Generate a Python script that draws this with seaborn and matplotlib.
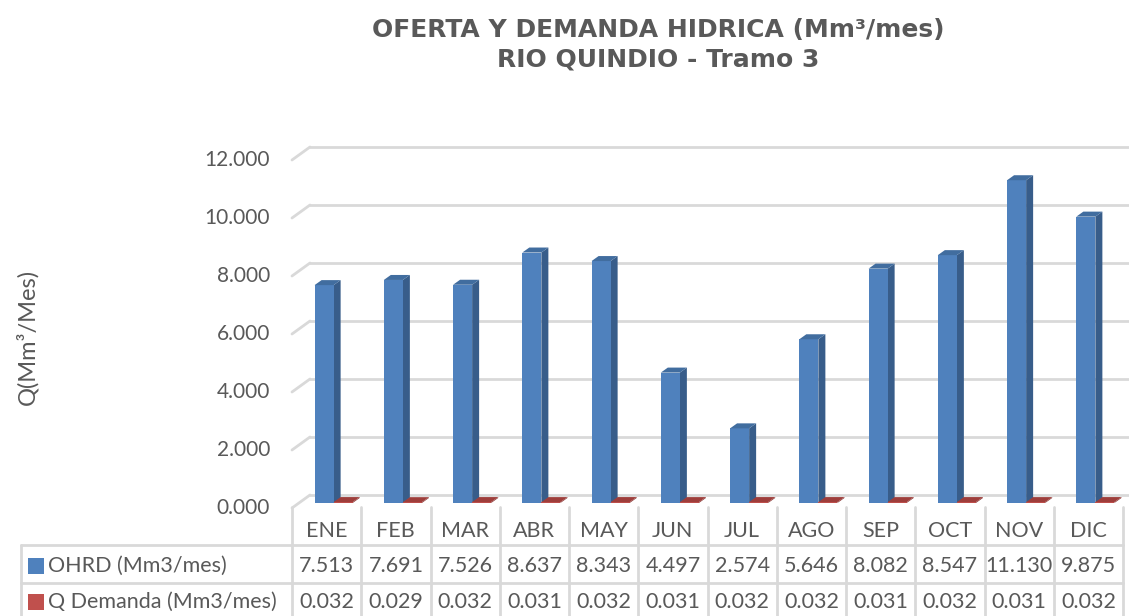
import matplotlib
matplotlib.use("Agg")
import matplotlib.pyplot as plt
from matplotlib.patches import Polygon
import seaborn as sns
import pandas as pd

meses = ["ENE", "FEB", "MAR", "ABR", "MAY", "JUN", "JUL", "AGO", "SEP", "OCT", "NOV", "DIC"]
ohrd = [7.513, 7.691, 7.526, 8.637, 8.343, 4.497, 2.574, 5.646, 8.082, 8.547, 11.130, 9.875]
demanda = [0.032, 0.029, 0.032, 0.031, 0.032, 0.031, 0.032, 0.032, 0.031, 0.032, 0.031, 0.032]
series = ["OHRD (Mm3/mes)", "Q Demanda (Mm3/mes)"]
y_ticks = [0, 2, 4, 6, 8, 10, 12]
y_tick_labels = ["0.000", "2.000", "4.000", "6.000", "8.000", "10.000", "12.000"]

front_colors = {series[0]: "#4F81BD", series[1]: "#C0504D"}
side_colors = {series[0]: "#385D8A", series[1]: "#8C3836"}
top_colors = {series[0]: "#416D9F", series[1]: "#9E3E3B"}

df = pd.DataFrame({
    "mes": meses * 2,
    "valor": ohrd + demanda,
    "serie": [series[0]] * 12 + [series[1]] * 12,
})

W, H = 1129, 616
GRAY = "#595959"
GRID = "#D9D9D9"
BODY = "Lato"

sns.set_style("white")
plt.rcParams["font.family"] = [BODY, "DejaVu Sans"]

fig = plt.figure(figsize=(W / 100, H / 100), dpi=100)

# bar-front plane of the 3D chart
ax_left, ax_w = 299, 831
ax_bot, ax_top = 503, 140.5
ax = fig.add_axes([ax_left / W, 1 - ax_bot / H, ax_w / W, (ax_bot - ax_top) / H])
sns.barplot(data=df, x="mes", y="valor", hue="serie", palette=front_colors,
            width=0.55, saturation=1, legend=False, ax=ax, zorder=3,
            linewidth=0, edgecolor="none")
ax.set_xlim(-0.5, 11.5)
ax.set_ylim(0, 12.5)
ax.axis("off")

px_x = ax_w / 12.0          # pixels per category
px_y = (ax_bot - ax_top) / 12.5  # pixels per unit

# depth of the bars
bdx, bdy = 7 / px_x, 5 / px_y
# back wall / front floor offsets relative to bar plane
back_dx, back_dy = 11 / px_x, 8 / px_y
front_dx, front_dy = -7 / px_x, -5 / px_y

# gridlines on back wall with slanted floor-side segments
for v, lab in zip(y_ticks, y_tick_labels):
    ax.plot([-0.5 + back_dx, 12.5], [v + back_dy, v + back_dy], color=GRID,
            lw=2, clip_on=False, zorder=1)
    ax.plot([-0.5 + front_dx, -0.5 + back_dx], [v + front_dy, v + back_dy],
            color=GRID, lw=2, clip_on=False, zorder=1)
    ax.text(-0.5 - 29 / px_x, v + front_dy, lab, ha="right", va="center",
            fontsize=15, color=GRAY)

# 3D side and top faces derived from the seaborn bars
blue_sum = sum(matplotlib.colors.to_rgb(front_colors[series[0]]))
for p in list(ax.patches):
    x0, w, h = p.get_x(), p.get_width(), p.get_height()
    if w <= 0:
        continue
    key = series[0] if abs(sum(p.get_facecolor()[:3]) - blue_sum) < 0.05 else series[1]
    side = Polygon([(x0 + w, 0), (x0 + w + bdx, bdy), (x0 + w + bdx, h + bdy), (x0 + w, h)],
                   closed=True, facecolor=side_colors[key], edgecolor="none", zorder=2)
    top = Polygon([(x0, h), (x0 + bdx, h + bdy), (x0 + w + bdx, h + bdy), (x0 + w, h)],
                  closed=True, facecolor=top_colors[key], edgecolor="none", zorder=4,
                  clip_on=False)
    side.set_clip_on(False)
    ax.add_patch(side)
    ax.add_patch(top)

# data table below the chart
tab_top, row_h = 507, 38
tab_left = 292
ax_t = fig.add_axes([tab_left / W, 1 - (tab_top + 3 * row_h) / H, ax_w / W, 3 * row_h / H])
ax_t.set_xlim(-0.5, 11.5)
ax_t.set_ylim(3, 0)
ax_t.axis("off")
lab_left = -0.5 - (tab_left - 21) / px_x

for k in range(13):
    ax_t.plot([k - 0.5, k - 0.5], [0, 3], color=GRID, lw=2, clip_on=False)
ax_t.plot([lab_left, lab_left], [1, 3], color=GRID, lw=2, clip_on=False)
for r in [1, 2]:
    ax_t.plot([lab_left, 11.5], [r, r], color=GRID, lw=2, clip_on=False)

for i, m in enumerate(meses):
    ax_t.text(i, 0.62, m, ha="center", va="center", fontsize=15.5, color=GRAY)
    ax_t.text(i, 1.55, f"{ohrd[i]:.3f}", ha="center", va="center", fontsize=15.5, color=GRAY)
    ax_t.text(i, 2.5, f"{demanda[i]:.3f}", ha="center", va="center", fontsize=15.5, color=GRAY)

for r, s in zip([1.55, 2.5], series):
    ax_t.scatter([lab_left + 15 / px_x], [r], marker="s", s=120, color=front_colors[s],
                 clip_on=False, linewidths=0)
    ax_t.text(lab_left + 27 / px_x, r, s, ha="left", va="center", fontsize=15.5, color=GRAY)

fig.text(27 / W, 1 - 337 / H, "Q(Mm³/Mes)", rotation=90, ha="center", va="center",
         fontsize=17, color=GRAY)
fig.text(658 / W, 1 - 30 / H, "OFERTA Y DEMANDA HIDRICA (Mm³/mes)", ha="center",
         va="center", fontsize=18, fontweight="bold", color=GRAY, family="DejaVu Sans")
fig.text(658 / W, 1 - 59 / H, "RIO QUINDIO - Tramo 3", ha="center",
         va="center", fontsize=18, fontweight="bold", color=GRAY, family="DejaVu Sans")

fig.savefig("out.png", dpi=100)
